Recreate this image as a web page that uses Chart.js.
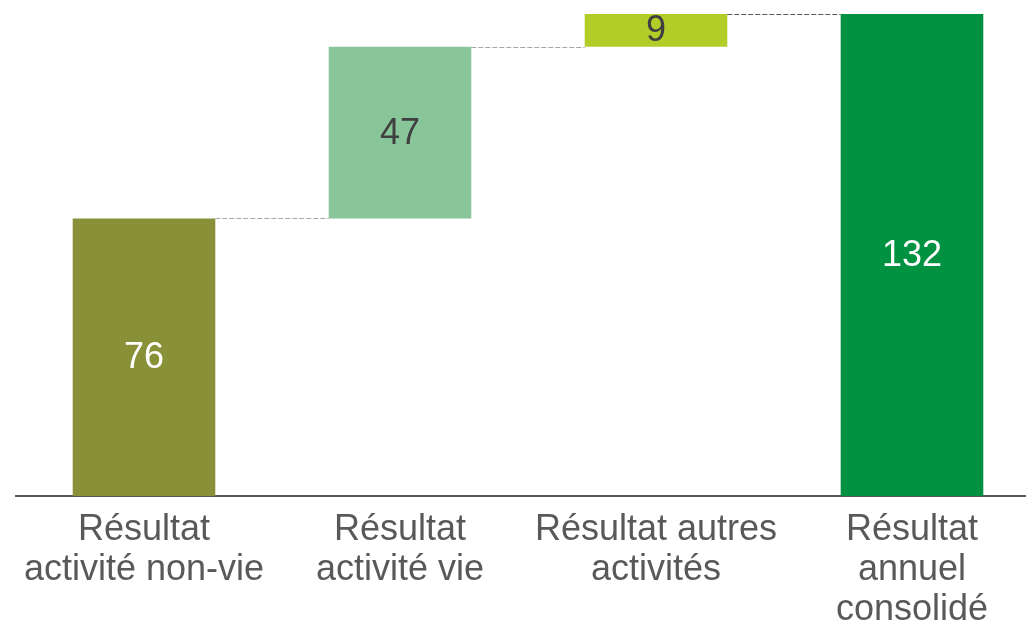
<!DOCTYPE html>
<html>
<head>
<meta charset="utf-8">
<script src="https://cdn.jsdelivr.net/npm/chart.js@4.4.0/dist/chart.umd.min.js"></script>
<style>
  html, body { margin: 0; padding: 0; background: #fff; overflow: hidden; }
  #wrap { position: relative; width: 1040px; height: 644px; }
</style>
</head>
<body>
<div id="wrap"><canvas id="chart"></canvas></div>
<script>
// Data
const categories = [
    ['Résultat', 'activité non-vie'],
    ['Résultat', 'activité vie'],
    ['Résultat autres', 'activités'],
    ['Résultat', 'annuel', 'consolidé']
];
const values = [76, 47, 9, 132];
const isTotal = [false, false, false, true];
const barColors = ['#889138', '#88C699', '#B3CD28', '#009240'];
const labelColors = ['#ffffff', '#404040', '#404040', '#ffffff'];

// waterfall ranges
const ranges = [];
let running = 0;
values.forEach((v, i) => {
    if (isTotal[i]) {
        ranges.push([0, v]);
        running = v;
    } else {
        ranges.push([running, running + v]);
        running += v;
    }
});

const FONT = '"Liberation Sans", Arial, sans-serif';

// dashed connectors between bars
const connectorPlugin = {
    id: 'connectors',
    afterDatasetsDraw(chart) {
        const ctx = chart.ctx;
        const meta = chart.getDatasetMeta(0);
        const y = chart.scales.y;
        const dashColors = ['#A6A6A6', '#A6A6A6', '#595959'];
        ctx.save();
        ctx.lineWidth = 1;
        ctx.setLineDash([5, 2]);
        for (let i = 0; i < meta.data.length - 1; i++) {
            const a = meta.data[i];
            const b = meta.data[i + 1];
            const py = Math.round(y.getPixelForValue(ranges[i][1])) + 0.5;
            ctx.strokeStyle = dashColors[i];
            ctx.beginPath();
            ctx.moveTo(a.x + a.width / 2, py);
            ctx.lineTo(b.x - b.width / 2, py);
            ctx.stroke();
        }
        ctx.restore();
    }
};

// value labels inside bars
const labelPlugin = {
    id: 'barLabels',
    afterDatasetsDraw(chart) {
        const ctx = chart.ctx;
        const meta = chart.getDatasetMeta(0);
        ctx.save();
        ctx.font = '36px ' + FONT;
        ctx.textAlign = 'center';
        ctx.textBaseline = 'middle';
        meta.data.forEach((bar, i) => {
            const mid = (bar.y + bar.base) / 2;
            ctx.fillStyle = labelColors[i];
            ctx.fillText(String(values[i]), bar.x, mid + 1);
        });
        ctx.restore();
    }
};

const ctx = document.getElementById('chart').getContext('2d');
new Chart(ctx, {
    type: 'bar',
    data: {
        labels: categories,
        datasets: [{
            data: ranges,
            backgroundColor: barColors,
            borderWidth: 0,
            barPercentage: 0.557,
            categoryPercentage: 1
        }]
    },
    options: {
        responsive: true,
        maintainAspectRatio: false,
        animation: false,
        layout: { padding: { left: 16, right: 0, top: 0, bottom: 0 } },
        plugins: {
            legend: { display: false },
            tooltip: { enabled: false }
        },
        scales: {
            x: {
                grid: { display: false, drawTicks: false },
                border: { display: true, color: '#595959', width: 2 },
                ticks: {
                    color: '#595959',
                    font: { family: FONT, size: 36, lineHeight: 1.11 },
                    padding: 14,
                    maxRotation: 0,
                    autoSkip: false
                }
            },
            y: {
                display: false,
                min: 0,
                max: 135.8
            }
        }
    },
    plugins: [connectorPlugin, labelPlugin]
});
</script>
</body>
</html>
